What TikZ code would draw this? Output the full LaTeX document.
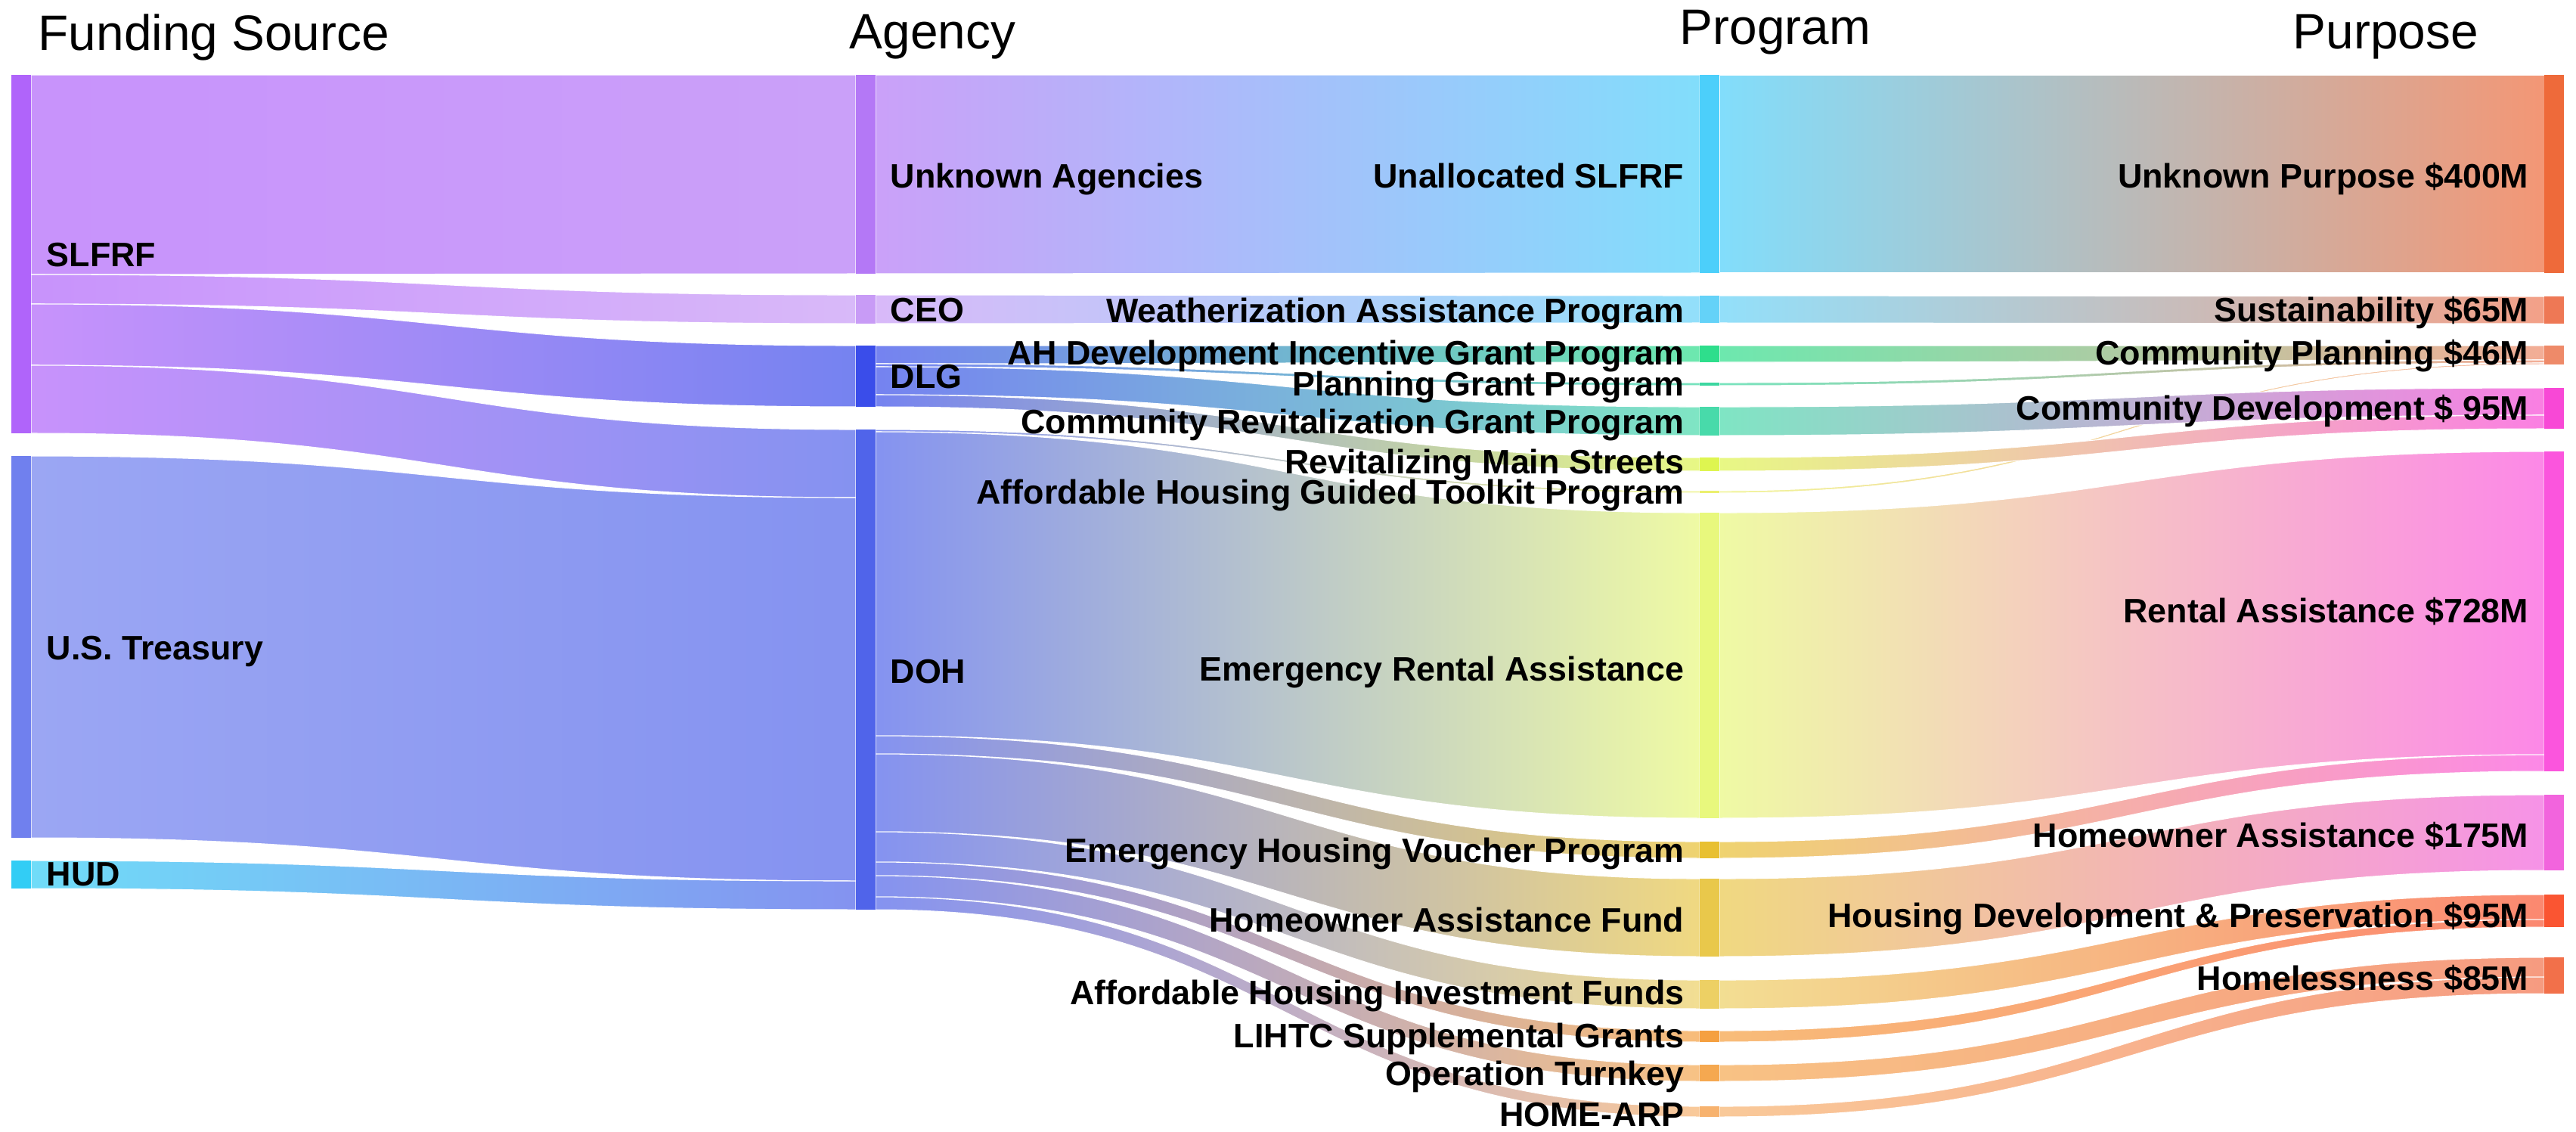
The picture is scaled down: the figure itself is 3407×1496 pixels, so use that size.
\documentclass[tikz,border=0pt]{standalone}
\usepackage{fontspec}
\setmainfont{Liberation Sans}
\usetikzlibrary{calc}
\pgfdeclarelayer{bg}
\pgfsetlayers{bg,main}
\definecolor{cSLFRF}{RGB}{176,100,250}
\definecolor{cTreas}{RGB}{112,128,238}
\definecolor{cHUD}{RGB}{50,205,245}
\definecolor{cUA}{RGB}{180,120,246}
\definecolor{cCEO}{RGB}{200,155,246}
\definecolor{cDLG}{RGB}{58,77,234}
\definecolor{cDOH}{RGB}{80,100,234}
\definecolor{cUnal}{RGB}{76,207,250}
\definecolor{cWeath}{RGB}{100,210,248}
\definecolor{cAHDev}{RGB}{46,222,140}
\definecolor{cPlan}{RGB}{60,215,160}
\definecolor{cCRG}{RGB}{72,218,170}
\definecolor{cRMS}{RGB}{222,245,80}
\definecolor{cTool}{RGB}{235,240,110}
\definecolor{cERA}{RGB}{232,248,125}
\definecolor{cEHV}{RGB}{232,192,50}
\definecolor{cHAF}{RGB}{233,200,75}
\definecolor{cAHIF}{RGB}{237,208,100}
\definecolor{cLIHTC}{RGB}{245,160,64}
\definecolor{cTurn}{RGB}{245,168,80}
\definecolor{cHOME}{RGB}{247,178,110}
\definecolor{cUnkP}{RGB}{238,106,58}
\definecolor{cSust}{RGB}{238,120,85}
\definecolor{cCPlan}{RGB}{238,138,105}
\definecolor{cCDev}{RGB}{248,72,214}
\definecolor{cRent}{RGB}{251,85,221}
\definecolor{cHome}{RGB}{242,100,221}
\definecolor{cHDev}{RGB}{250,85,50}
\definecolor{cHless}{RGB}{242,112,74}
\tikzset{
  skbar/.style={draw=none, inner sep=0pt, outer sep=0pt, minimum width=0.26cm, anchor=north west},
  sklinkst/.style={draw=white, line width=0.3pt},
  lbl/.style={inner sep=0pt, font=\fontsize{12.75}{14}\selectfont\bfseries, text=black},
  ttl/.style={inner sep=0pt, font=\fontsize{18.7}{22}\selectfont, text=black}
}
% name, x0, y0, y1, colour
\newcommand\sknode[5]{%
  \node[skbar, fill=#5, minimum height={(#4-#3)*0.01cm}] (#1) at (#2,#3) {};}
% src, a0, a1, tgt, b0, b1, colA, colB
\newcommand\sklink[8]{%
  \coordinate (lkm) at ($(#1.east)!0.5!(#4.west)$);
  \path[sklinkst, left color=#7!70, right color=#8!70]
    (#1.east |- 0,#2) .. controls (lkm |- 0,#2) and (lkm |- 0,#5) .. (#4.west |- 0,#5)
    -- (#4.west |- 0,#6) .. controls (lkm |- 0,#6) and (lkm |- 0,#3) .. (#1.east |- 0,#3) -- cycle;}
\begin{document}
\begin{tikzpicture}[x=0.01cm, y=-0.01cm]
\useasboundingbox (0,0) rectangle (3407,1496);
% nodes
\sknode{slfrf}{15}{99}{573}{cSLFRF}
\sknode{treas}{15}{603}{1108}{cTreas}
\sknode{hud}{15}{1138}{1175}{cHUD}
\sknode{ua}{1132}{99}{362}{cUA}
\sknode{ceo}{1132}{390}{428}{cCEO}
\sknode{dlg}{1132}{457}{538}{cDLG}
\sknode{doh}{1132}{568}{1203}{cDOH}
\sknode{unal}{2248}{99}{361}{cUnal}
\sknode{weath}{2248}{391}{427}{cWeath}
\sknode{ahdev}{2248}{457}{479}{cAHDev}
\sknode{plan}{2248}{506}{510}{cPlan}
\sknode{crg}{2248}{538}{576}{cCRG}
\sknode{rms}{2248}{605}{623}{cRMS}
\sknode{tool}{2248}{649}{652}{cTool}
\sknode{era}{2248}{678}{1082}{cERA}
\sknode{ehv}{2248}{1113}{1135}{cEHV}
\sknode{haf}{2248}{1162}{1265}{cHAF}
\sknode{ahif}{2248}{1296}{1334}{cAHIF}
\sknode{lihtc}{2248}{1363}{1378}{cLIHTC}
\sknode{turn}{2248}{1408}{1430}{cTurn}
\sknode{home}{2248}{1463}{1477}{cHOME}
\sknode{unkp}{3365}{99}{361}{cUnkP}
\sknode{sust}{3365}{392}{428}{cSust}
\sknode{cplan}{3365}{457}{482}{cCPlan}
\sknode{cdev}{3365}{513}{567}{cCDev}
\sknode{rent}{3365}{597}{1020}{cRent}
\sknode{homeo}{3365}{1051}{1151}{cHome}
\sknode{hdev}{3365}{1183}{1226}{cHDev}
\sknode{hless}{3365}{1266}{1314}{cHless}
% links
\begin{pgfonlayer}{bg}
\fill[white] (0,0) rectangle (3407,1496);
\sklink{slfrf}{99}{363}{ua}{99}{362}{cSLFRF}{cUA}
\sklink{slfrf}{363}{402}{ceo}{390}{428}{cSLFRF}{cCEO}
\sklink{slfrf}{402}{483}{dlg}{457}{538}{cSLFRF}{cDLG}
\sklink{slfrf}{483}{573}{doh}{568}{658}{cSLFRF}{cDOH}
\sklink{treas}{603}{1108}{doh}{658}{1165}{cTreas}{cDOH}
\sklink{hud}{1138}{1175}{doh}{1165}{1203}{cHUD}{cDOH}
\sklink{ua}{99}{362}{unal}{99}{361}{cUA}{cUnal}
\sklink{ceo}{390}{428}{weath}{391}{427}{cCEO}{cWeath}
\sklink{dlg}{457}{481}{ahdev}{457}{479}{cDLG}{cAHDev}
\sklink{dlg}{481}{485}{plan}{506}{510}{cDLG}{cPlan}
\sklink{dlg}{485}{522}{crg}{538}{576}{cDLG}{cCRG}
\sklink{dlg}{522}{538}{rms}{605}{623}{cDLG}{cRMS}
\sklink{doh}{568}{571}{tool}{649}{652}{cDOH}{cTool}
\sklink{doh}{571}{973}{era}{678}{1082}{cDOH}{cERA}
\sklink{doh}{973}{997}{ehv}{1113}{1135}{cDOH}{cEHV}
\sklink{doh}{997}{1100}{haf}{1162}{1265}{cDOH}{cHAF}
\sklink{doh}{1100}{1140}{ahif}{1296}{1334}{cDOH}{cAHIF}
\sklink{doh}{1140}{1158}{lihtc}{1363}{1378}{cDOH}{cLIHTC}
\sklink{doh}{1158}{1186}{turn}{1408}{1430}{cDOH}{cTurn}
\sklink{doh}{1186}{1203}{home}{1463}{1477}{cDOH}{cHOME}
\sklink{unal}{99}{361}{unkp}{99}{361}{cUnal}{cUnkP}
\sklink{weath}{391}{427}{sust}{392}{428}{cWeath}{cSust}
\sklink{ahdev}{457}{479}{cplan}{457}{476}{cAHDev}{cCPlan}
\sklink{plan}{506}{510}{cplan}{476}{480}{cPlan}{cCPlan}
\sklink{tool}{649}{652}{cplan}{480}{482}{cTool}{cCPlan}
\sklink{crg}{538}{576}{cdev}{513}{549}{cCRG}{cCDev}
\sklink{rms}{605}{623}{cdev}{549}{567}{cRMS}{cCDev}
\sklink{era}{678}{1082}{rent}{597}{998}{cERA}{cRent}
\sklink{ehv}{1113}{1135}{rent}{998}{1020}{cEHV}{cRent}
\sklink{haf}{1162}{1265}{homeo}{1051}{1151}{cHAF}{cHome}
\sklink{ahif}{1296}{1334}{hdev}{1183}{1216}{cAHIF}{cHDev}
\sklink{lihtc}{1363}{1378}{hdev}{1216}{1226}{cLIHTC}{cHDev}
\sklink{turn}{1408}{1430}{hless}{1266}{1292}{cTurn}{cHless}
\sklink{home}{1463}{1477}{hless}{1292}{1314}{cHOME}{cHless}
\end{pgfonlayer}
% titles
\node[ttl, anchor=base west] (tfund) at (50,66) {Funding Source};
\node[ttl, anchor=base west] (tagency) at (1123,64) {Agency};
\node[ttl, anchor=base west] (tprog) at (2221,58) {Program};
\node[ttl, anchor=base west] (tpurp) at (3032,64) {Purpose};
% source labels
\node[lbl, anchor=base west] (lslfrf) at (61,352) {SLFRF};
\node[lbl, anchor=base west] (ltreas) at (61,872) {U.S. Treasury};
\node[lbl, anchor=base west] (lhud) at (61,1171) {HUD};
% agency labels
\node[lbl, anchor=base west] (lua) at (1177,248) {Unknown Agencies};
\node[lbl, anchor=base west] (lceo) at (1177,425) {CEO};
\node[lbl, anchor=base west] (ldlg) at (1177,513) {DLG};
\node[lbl, anchor=base west] (ldoh) at (1177,903) {DOH};
% program labels
\node[lbl, anchor=base east] (lunal) at (2228,248) {Unallocated SLFRF};
\node[lbl, anchor=base east] (lweath) at (2228,426) {Weatherization Assistance Program};
\node[lbl, anchor=base east] (lahdev) at (2228,482) {AH Development Incentive Grant Program};
\node[lbl, anchor=base east] (lplan) at (2228,523) {Planning Grant Program};
\node[lbl, anchor=base east] (lcrg) at (2228,573) {Community Revitalization Grant Program};
\node[lbl, anchor=base east] (lrms) at (2228,626) {Revitalizing Main Streets};
\node[lbl, anchor=base east] (ltool) at (2228,666) {Affordable Housing Guided Toolkit Program};
\node[lbl, anchor=base east] (lera) at (2228,900) {Emergency Rental Assistance};
\node[lbl, anchor=base east] (lehv) at (2228,1140) {Emergency Housing Voucher Program};
\node[lbl, anchor=base east] (lhaf) at (2228,1232) {Homeowner Assistance Fund};
\node[lbl, anchor=base east] (lahif) at (2228,1328) {Affordable Housing Investment Funds};
\node[lbl, anchor=base east] (llihtc) at (2228,1385) {LIHTC Supplemental Grants};
\node[lbl, anchor=base east] (lturn) at (2228,1435) {Operation Turnkey};
\node[lbl, anchor=base east] (lhome) at (2228,1489) {HOME-ARP};
% purpose labels
\node[lbl, anchor=base east] (lunkp) at (3345,248) {Unknown Purpose \$400M};
\node[lbl, anchor=base east] (lsust) at (3345,425) {Sustainability \$65M};
\node[lbl, anchor=base east] (lcplan) at (3345,482) {Community Planning \$46M};
\node[lbl, anchor=base east] (lcdev) at (3345,555) {Community Development \$ 95M};
\node[lbl, anchor=base east] (lrent) at (3345,823) {Rental Assistance \$728M};
\node[lbl, anchor=base east] (lhomeo) at (3345,1120) {Homeowner Assistance \$175M};
\node[lbl, anchor=base east] (lhdev) at (3345,1226) {Housing Development \& Preservation \$95M};
\node[lbl, anchor=base east] (lhless) at (3345,1309) {Homelessness \$85M};
\end{tikzpicture}
\end{document}
